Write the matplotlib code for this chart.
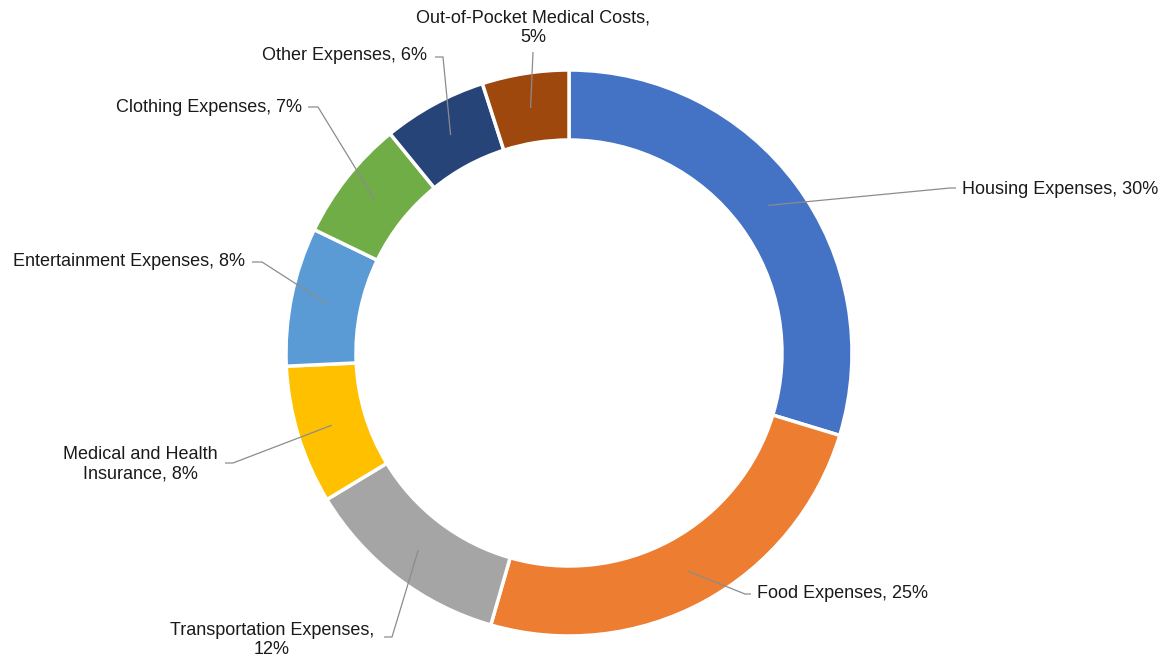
import numpy as np
import matplotlib.pyplot as plt

plt.rcParams['font.family'] = ['Liberation Sans', 'DejaVu Sans']

# data
categories = ["Housing Expenses", "Food Expenses", "Transportation Expenses",
              "Medical and Health Insurance", "Entertainment Expenses",
              "Clothing Expenses", "Other Expenses", "Out-of-Pocket Medical Costs"]
values = [30, 25, 12, 8, 8, 7, 6, 5]
labels = ["Housing Expenses, 30%", "Food Expenses, 25%", "Transportation Expenses,\n12%",
          "Medical and Health\nInsurance, 8%", "Entertainment Expenses, 8%",
          "Clothing Expenses, 7%", "Other Expenses, 6%", "Out-of-Pocket Medical Costs,\n5%"]
colors = ["#4472C4", "#ED7D31", "#A5A5A5", "#FFC000", "#5B9BD5", "#70AD47", "#264478", "#9E480E"]

W, H = 1173, 660
cx, cy = 569, H - 353
R = 283
ring = 70

fig = plt.figure(figsize=(W / 100, H / 100), dpi=100)
ax = fig.add_axes([0, 0, 1, 1])
wedges, _ = ax.pie(values, colors=colors, startangle=90, counterclock=False,
                   radius=R, center=(cx, cy),
                   wedgeprops=dict(width=ring, edgecolor="white", linewidth=2.5))
ax.set_xlim(0, W)
ax.set_ylim(0, H)
ax.set_aspect("equal")
ax.axis("off")

# label layout (pixel positions, y from top): text x, text y, ha, elbow, line end
layout = [
    (962, 189, "left", (950, 188), (956, 188)),
    (757, 594, "left", (745, 594), (751, 594)),
    (272, 640, "center", (392, 637), (384, 637)),
    (140, 464, "center", (233, 463), (225, 463)),
    (245, 262, "right", (262, 262), (252, 262)),
    (302, 108, "right", (318, 107), (308, 107)),
    (427, 56, "right", (443, 57), (435, 57)),
    (533, 28, "center", (533, 52), (533, 52)),
]

for w, lab, (tx, ty, ha, elbow, end) in zip(wedges, labels, layout):
    # leader starts in the middle of the ring at the wedge's mid angle
    mid = np.deg2rad((w.theta1 + w.theta2) / 2)
    r = R - ring / 2
    sx, sy = cx + r * np.cos(mid), cy + r * np.sin(mid)
    ax.plot([sx, elbow[0], end[0]], [sy, H - elbow[1], H - end[1]],
            color="#8c8c8c", lw=0.9, solid_capstyle="butt")
    ax.text(tx, H - ty, lab, ha=ha, va="center", fontsize=13,
            color="#1a1a1a", multialignment="center", linespacing=1.2)

fig.savefig("out.png", dpi=100, facecolor="white")
